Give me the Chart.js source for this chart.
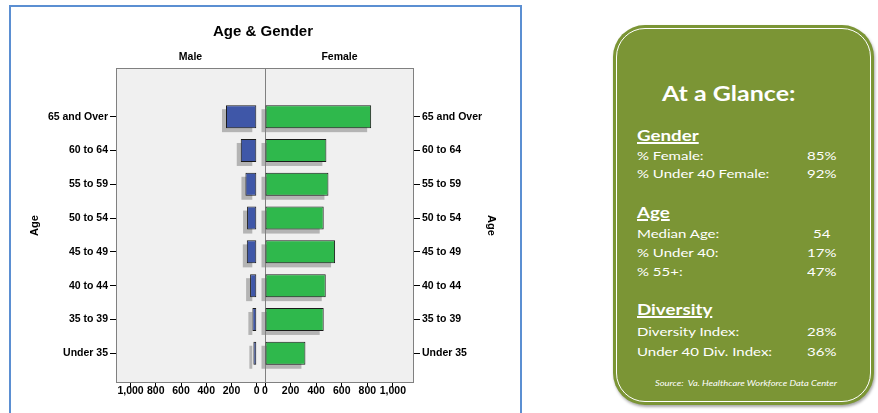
<!DOCTYPE html>
<html>
<head>
<meta charset="utf-8">
<script src="https://cdn.jsdelivr.net/npm/chart.js@4.4.0/dist/chart.umd.min.js"></script>
<style>
html, body { margin: 0; padding: 0; background: #fff; width: 878px; height: 413px; overflow: hidden; }
#frame { position: absolute; left: 9px; top: 5px; width: 509px; height: 440px; border: 2px solid #5b8fd2; }
#wrap { position: absolute; left: 0; top: 0; width: 530px; height: 413px; }
#glance { position: absolute; left: 613px; top: 25px; width: 261px; height: 380px; background: #7b9535;
  border-radius: 32px; box-shadow: 1px 2px 3px rgba(0,0,0,0.35); }
#glance .inner { position: absolute; left: 3px; top: 3px; right: 3px; bottom: 3px; border: 1.5px solid #fff; border-radius: 29px; }
.t { position: absolute; color: #fff; font-family: Lato, "Open Sans", sans-serif; white-space: nowrap;
  line-height: 1; transform: scaleX(1.25); transform-origin: left center; }
.big { font-size: 20px; font-weight: bold; }
.head { font-size: 15px; font-weight: bold; text-decoration: underline; text-decoration-thickness: 1.5px; }
.row { font-size: 12px; }
.src { font-size: 7.5px; font-style: italic; }
</style>
</head>
<body>
<div id="frame"></div>
<div id="wrap"><canvas id="age-chart" width="530" height="413"></canvas></div>

<div id="glance"><div class="inner"></div></div>
<div class="t big" style="left:662px; top:83px">At a Glance:</div>
<div class="t head" style="left:637px; top:128px">Gender</div>
<div class="t row" style="left:637px; top:150px">% Female:</div>
<div class="t row" style="left:807px; top:150px">85%</div>
<div class="t row" style="left:637px; top:168px">% Under 40 Female:</div>
<div class="t row" style="left:807px; top:168px">92%</div>
<div class="t head" style="left:637px; top:205px">Age</div>
<div class="t row" style="left:637px; top:228px">Median Age:</div>
<div class="t row" style="left:813px; top:228px">54</div>
<div class="t row" style="left:637px; top:247px">% Under 40:</div>
<div class="t row" style="left:807px; top:247px">17%</div>
<div class="t row" style="left:637px; top:266px">% 55+:</div>
<div class="t row" style="left:807px; top:266px">47%</div>
<div class="t head" style="left:637px; top:302px">Diversity</div>
<div class="t row" style="left:637px; top:326px">Diversity Index:</div>
<div class="t row" style="left:807px; top:326px">28%</div>
<div class="t row" style="left:637px; top:346px">Under 40 Div. Index:</div>
<div class="t row" style="left:807px; top:346px">36%</div>
<div class="t src" style="left:655px; top:380px">Source:&nbsp; Va. Healthcare Workforce Data Center</div>

<script>
// data
let ages = ['65 and Over', '60 to 64', '55 to 59', '50 to 54', '45 to 49', '40 to 44', '35 to 39', 'Under 35']
let male = [244, 127, 90, 77, 79, 53, 35, 27]
let female = [830, 480, 496, 459, 548, 475, 459, 316]
let xTicks = [0, 200, 400, 600, 800, 1000]

Chart.defaults.font.family = '"Liberation Sans", Arial, sans-serif'
Chart.defaults.color = '#000'

let labelFont = {size: 10.5, weight: 'bold'}

// grey plot box, bar shadows, centre line
let plotBox = {
    id: 'plotBox',
    beforeDraw(chart) {
        let a = chart.chartArea
        let ctx = chart.ctx
        ctx.save()
        ctx.fillStyle = '#f0f0f0'
        ctx.fillRect(a.left, a.top, a.width, a.height)
        ctx.restore()
    },
    beforeDatasetsDraw(chart) {
        let a = chart.chartArea
        let ctx = chart.ctx
        ctx.save()
        ctx.beginPath()
        ctx.rect(a.left, a.top, a.width, a.height)
        ctx.clip()
        ctx.fillStyle = '#b4b4b4'
        chart.data.datasets.forEach((ds, i) => {
            chart.getDatasetMeta(i).data.forEach(bar => {
                let p = bar.getProps(['x', 'y', 'base', 'height'], true)
                let l = Math.min(p.x, p.base)
                ctx.fillRect(l - 4, p.y - p.height / 2 + 4, Math.abs(p.x - p.base), p.height)
            })
        })
        let cx = Math.round(chart.scales.xf.left) + 0.5
        ctx.strokeStyle = '#808080'
        ctx.lineWidth = 1
        ctx.beginPath()
        ctx.moveTo(cx, a.top)
        ctx.lineTo(cx, a.bottom)
        ctx.stroke()
        ctx.restore()
    },
    afterDraw(chart) {
        let a = chart.chartArea
        let ctx = chart.ctx
        ctx.save()
        ctx.strokeStyle = '#808080'
        ctx.lineWidth = 1
        ctx.strokeRect(Math.round(a.left) + 0.5, Math.round(a.top) + 0.5, Math.round(a.width) - 1, Math.round(a.height) - 1)
        ctx.restore()
    }
}

function ageAxis(pos, width) {
    return {
        type: 'linear',
        position: pos,
        reverse: true,
        offset: false,
        min: -1.44,
        max: 7.88,
        afterBuildTicks: s => { s.ticks = ages.map((a, i) => ({value: i})) },
        afterFit: s => { s.width = width },
        ticks: {callback: v => ages[v], font: labelFont, padding: 2, autoSkip: false, color: '#000'},
        grid: {drawOnChartArea: false, offset: false, tickLength: 6, color: '#000'},
        border: {display: false},
        title: {display: true, text: 'Age', font: {size: 11, weight: 'bold'}, color: '#000', padding: {top: 8}}
    }
}

function countAxis(rev, min, max) {
    return {
        type: 'linear',
        position: 'bottom',
        stack: 'bottom',
        stackWeight: 1,
        reverse: rev,
        min: min,
        max: max,
        afterBuildTicks: s => { s.ticks = xTicks.map(v => ({value: v})) },
        afterFit: s => { s.height = 30 },
        ticks: {callback: v => v.toLocaleString('en-US'), font: labelFont, padding: -2, maxRotation: 0, autoSkip: false, color: '#000'},
        grid: {drawOnChartArea: false, tickLength: 4, color: '#000'},
        border: {display: false}
    }
}

function sideAxis(text) {
    return {
        type: 'linear',
        position: 'top',
        stack: 'top',
        stackWeight: 1,
        afterFit: s => { s.height = 23 },
        ticks: {display: false},
        grid: {display: false},
        border: {display: false},
        title: {display: true, text: text, font: labelFont, color: '#000', padding: {top: 6, bottom: 0}}
    }
}

let ctx = document.querySelector('#age-chart').getContext('2d')

let ageChart = new Chart(ctx, {
    type: 'bar',
    data: {
        datasets: [
            {
                label: 'Male',
                data: male.map((v, i) => ({x: v, y: i})),
                xAxisID: 'xm',
                yAxisID: 'y',
                backgroundColor: '#3f57a8',
                borderColor: '#1a1a1a',
                borderWidth: 1,
                borderSkipped: false
            },
            {
                label: 'Female',
                data: female.map((v, i) => ({x: v, y: i})),
                xAxisID: 'xf',
                yAxisID: 'y',
                backgroundColor: '#2fb84c',
                borderColor: '#1a1a1a',
                borderWidth: 1,
                borderSkipped: false
            }
        ]
    },
    options: {
        indexAxis: 'y',
        responsive: false,
        animation: false,
        devicePixelRatio: 1,
        grouped: false,
        barPercentage: 0.68,
        categoryPercentage: 1,
        layout: {padding: {left: 20, right: 24, top: 0, bottom: 0}},
        plugins: {
            legend: {display: false},
            tooltip: {enabled: false},
            title: {display: true, text: 'Age & Gender', color: '#000', font: {size: 15, weight: 'bold'}, padding: {top: 23, bottom: 4}}
        },
        scales: {
            y: ageAxis('left', 96),
            y2: ageAxis('right', 92),
            xm: countAxis(true, -65, 1115),
            xf: countAxis(false, 0, 1165),
            // top boxes are placed in reverse order, so Female is listed first
            ft: sideAxis('Female'),
            mt: sideAxis('Male')
        }
    },
    plugins: [plotBox]
})
</script>
</body>
</html>
